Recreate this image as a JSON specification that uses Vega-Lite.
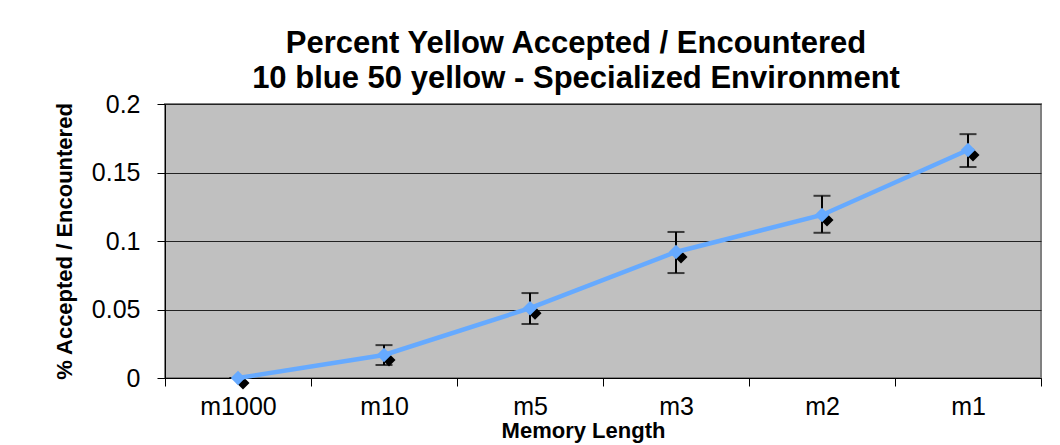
{
  "$schema": "https://vega.github.io/schema/vega-lite/v6.json",
  "autosize": "none",
  "width": 876,
  "height": 274,
  "padding": {"left": 165, "top": 104, "right": 19, "bottom": 67},
  "background": "white",
  "title": {
    "text": ["Percent Yellow Accepted / Encountered", "10 blue 50 yellow - Specialized Environment"],
    "font": "Liberation Sans",
    "fontSize": 31,
    "fontWeight": "bold",
    "color": "black",
    "lineHeight": 35,
    "dx": -27,
    "dy": 11,
    "offset": 8
  },
  "config": {
    "view": {"fill": "#C0C0C0", "stroke": "#808080", "strokeWidth": 2},
    "axis": {"labelFont": "Liberation Sans", "titleFont": "Liberation Sans", "labelColor": "black", "titleColor": "black", "domainColor": "black", "tickColor": "black"}
  },
  "data": {
    "values": [
      {"m": "m1000", "v": 0.0, "lo": 0.0, "hi": 0.0},
      {"m": "m10", "v": 0.0168, "lo": 0.0095, "hi": 0.024},
      {"m": "m5", "v": 0.051, "lo": 0.0394, "hi": 0.062},
      {"m": "m3", "v": 0.092, "lo": 0.0766, "hi": 0.1066},
      {"m": "m2", "v": 0.119, "lo": 0.106, "hi": 0.133},
      {"m": "m1", "v": 0.1664, "lo": 0.154, "hi": 0.178}
    ]
  },
  "encoding": {
    "x": {
      "field": "m", "type": "nominal", "sort": null,
      "scale": {"paddingInner": 0, "paddingOuter": 0},
      "axis": {
        "title": "Memory Length", "titleFontSize": 22, "titleFontWeight": "bold",
        "titlePadding": 1, "titleX": 418,
        "labelFontSize": 25, "labelAngle": 0, "labelPadding": 8,
        "tickBand": "extent", "tickSize": 8, "domain": true, "domainWidth": 1
      }
    }
  },
  "layer": [
    {
      "mark": {"type": "rule", "color": "black", "strokeWidth": 2},
      "encoding": {
        "y": {"field": "lo", "type": "quantitative"},
        "y2": {"field": "hi"}
      }
    },
    {
      "mark": {"type": "tick", "color": "black", "thickness": 2, "size": 17},
      "encoding": {"y": {"field": "lo", "type": "quantitative"}}
    },
    {
      "mark": {"type": "tick", "color": "black", "thickness": 2, "size": 17},
      "encoding": {"y": {"field": "hi", "type": "quantitative"}}
    },
    {
      "mark": {"type": "point", "shape": "diamond", "filled": true, "color": "black", "opacity": 1, "size": 170, "xOffset": 5, "yOffset": 5},
      "encoding": {"y": {"field": "v", "type": "quantitative"}}
    },
    {
      "mark": {"type": "line", "color": "#66AAFF", "strokeWidth": 4.5},
      "encoding": {
        "y": {
          "field": "v", "type": "quantitative",
          "scale": {"domain": [0, 0.2], "nice": false},
          "axis": {
            "title": "% Accepted / Encountered", "titleFontSize": 22, "titleFontWeight": "bold",
            "titlePadding": 15,
            "values": [0, 0.05, 0.1, 0.15, 0.2], "format": "~g",
            "labelFontSize": 25, "labelPadding": 17, "tickSize": 8,
            "grid": true, "gridColor": "#222222", "gridWidth": 1.2
          }
        }
      }
    },
    {
      "mark": {"type": "point", "shape": "diamond", "filled": true, "color": "#66AAFF", "opacity": 1, "size": 210},
      "encoding": {"y": {"field": "v", "type": "quantitative"}}
    }
  ]
}
